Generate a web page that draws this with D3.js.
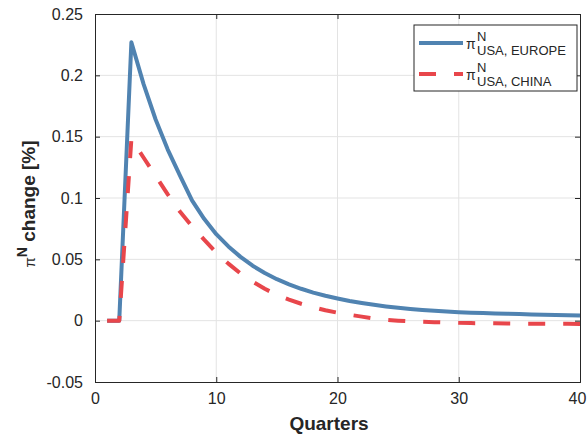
<!DOCTYPE html>
<html>
<head>
<meta charset="utf-8">
<script src="https://cdn.jsdelivr.net/npm/d3@7"></script>
<style>
	body { margin: 0; background: #fff; }
	text { font-family: "Liberation Sans", Arial, sans-serif; fill: #262626; }
</style>
</head>
<body>
<div id="root"></div>
<script>
const quarters	= d3.range(1, 41);
const europe	= [0, 0, 0.227, 0.193, 0.164, 0.1395, 0.1185, 0.098, 0.083, 0.0705,
	0.0605, 0.0520, 0.0448, 0.0388, 0.0338, 0.0296, 0.0260, 0.0229, 0.0203, 0.0181,
	0.0161, 0.0144, 0.0129, 0.0116, 0.0105, 0.0095, 0.0087, 0.0080, 0.0074, 0.0069,
	0.0065, 0.0062, 0.0059, 0.0056, 0.0054, 0.0051, 0.0049, 0.0047, 0.0045, 0.0043];
const china		= [0, 0, 0.148, 0.133, 0.118, 0.103, 0.089, 0.077, 0.066, 0.0555,
	0.0465, 0.0385, 0.0318, 0.026, 0.021, 0.0172, 0.0138, 0.011, 0.0085, 0.0065,
	0.0048, 0.0033, 0.0018, 0.0007, 0.0000, -0.0005, -0.0009, -0.0012, -0.0015, -0.0018,
	-0.0020, -0.0021, -0.0022, -0.0023, -0.0024, -0.0025, -0.0025, -0.0026, -0.0026, -0.0027];
const x_ticks	= [0, 10, 20, 30, 40];
const y_ticks	= [-0.05, 0, 0.05, 0.1, 0.15, 0.2, 0.25];
const series	= [
	{ name: 'USA, EUROPE', values: europe, color: '#5083b1', dash: null },
	{ name: 'USA, CHINA', values: china, color: '#e8464b', dash: '17,18' },
];

const canvasWidth	= 587;
const canvasHeight	= 436;
const margin		= { top: 14, right: 7, bottom: 54, left: 95 };
const width			= canvasWidth - margin.left - margin.right;
const height		= canvasHeight - margin.top - margin.bottom;

const svg	= d3.select('#root').append('svg')
	.attr('width', canvasWidth)
	.attr('height', canvasHeight);

const g		= svg.append('g').attr('transform', 'translate(' + margin.left + ',' + margin.top + ')');

const x		= d3.scaleLinear().domain([0, 40]).range([0, width]);
const y		= d3.scaleLinear().domain([-0.05, 0.25]).range([height, 0]);

// grid
g.append('g').selectAll('line').data(x_ticks.slice(1, -1)).enter().append('line')
	.attr('x1', d => x(d)).attr('x2', d => x(d))
	.attr('y1', 0).attr('y2', height)
	.attr('stroke', '#e3e3e3').attr('stroke-width', 1);

g.append('g').selectAll('line').data(y_ticks.slice(1, -1)).enter().append('line')
	.attr('x1', 0).attr('x2', width)
	.attr('y1', d => y(d)).attr('y2', d => y(d))
	.attr('stroke', '#e3e3e3').attr('stroke-width', 1);

// lines
const line	= d3.line()
	.x((d, i) => x(quarters[i]))
	.y(d => y(d));

series.forEach((s) => {
	g.append('path')
		.datum(s.values)
		.attr('d', line)
		.attr('fill', 'none')
		.attr('stroke', s.color)
		.attr('stroke-width', 4)
		.attr('stroke-linejoin', 'round')
		.attr('stroke-dasharray', s.dash);
});

// axes (ticks inside, box on)
const fmt	= d => String(+d.toFixed(2));

const bottomAxis	= g.append('g').attr('transform', 'translate(0,' + height + ')')
	.call(d3.axisBottom(x).tickValues(x_ticks).tickSize(-5).tickPadding(11).tickFormat(d => d));
const leftAxis		= g.append('g')
	.call(d3.axisLeft(y).tickValues(y_ticks).tickSize(-5).tickPadding(12).tickFormat(fmt));
const topAxis		= g.append('g')
	.call(d3.axisTop(x).tickValues(x_ticks).tickSize(-5).tickFormat(''));
const rightAxis		= g.append('g').attr('transform', 'translate(' + width + ',0)')
	.call(d3.axisRight(y).tickValues(y_ticks).tickSize(-5).tickFormat(''));

[bottomAxis, leftAxis, topAxis, rightAxis].forEach((a) => {
	a.selectAll('path').attr('stroke', '#262626').attr('stroke-width', 1);
	a.selectAll('line').attr('stroke', '#262626');
	a.selectAll('text').style('font-size', '16px').attr('fill', '#262626')
		.style('font-family', '"Liberation Sans", Arial, sans-serif');
});

// last x label sits against the figure edge
bottomAxis.selectAll('text').filter(d => d === 40).attr('dx', -3);

// axis labels
svg.append('text')
	.attr('x', 329)
	.attr('y', 430)
	.attr('text-anchor', 'middle')
	.style('font-size', '19px')
	.style('font-weight', 'bold')
	.text('Quarters');

const ylab	= svg.append('text')
	.attr('transform', 'translate(35,204) rotate(-90)')
	.attr('text-anchor', 'middle')
	.style('font-size', '19px')
	.style('font-weight', 'bold');
ylab.append('tspan').style('font-weight', 'normal').style('font-size', '15px').text('π');
ylab.append('tspan').attr('dy', -8).style('font-size', '14px').text('N');
ylab.append('tspan').attr('dy', 8).text(' change [%]');

// legend
const lgnd	= svg.append('g').attr('transform', 'translate(414,25)');

lgnd.append('rect')
	.attr('x', 0).attr('y', 0)
	.attr('width', 163).attr('height', 66)
	.attr('fill', '#fff')
	.attr('stroke', '#262626').attr('stroke-width', 1);

const items	= lgnd.selectAll('.legend').data(series).enter().append('g')
	.attr('class', 'legend')
	.attr('transform', (o, i) => 'translate(0,' + (i * 31) + ')');

items.append('line')
	.attr('x1', 5).attr('x2', 49)
	.attr('y1', 18).attr('y2', 18)
	.attr('stroke', o => o.color)
	.attr('stroke-width', 4)
	.attr('stroke-dasharray', o => o.dash);

items.append('text')
	.attr('x', 52).attr('y', 23.5)
	.style('font-size', '14px')
	.text('π');

items.append('text')
	.attr('x', 63).attr('y', 15.7)
	.style('font-size', '13px')
	.text('N');

items.append('text')
	.attr('x', 63).attr('y', 29.7)
	.style('font-size', '13px')
	.text(o => o.name);
</script>
</body>
</html>
